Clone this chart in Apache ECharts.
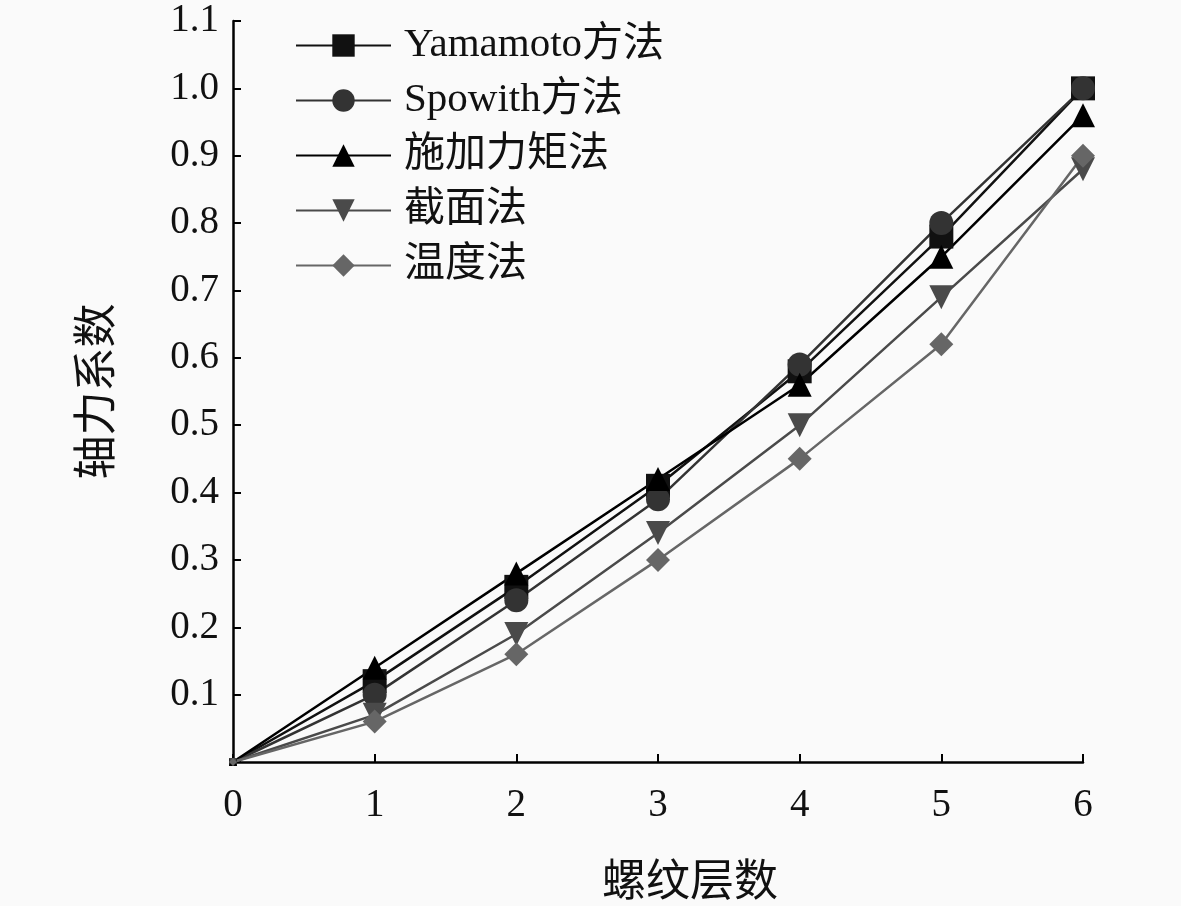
<!DOCTYPE html>
<html>
<head>
<meta charset="utf-8">
<script src="https://cdn.jsdelivr.net/npm/echarts@6/dist/echarts.min.js"></script>
<style>
html, body { margin: 0; padding: 0; background: #fafafa; }
#chart { width: 1181px; height: 906px; }
</style>
</head>
<body>
<div id="chart"></div>
<script>
var layers = [0, 1, 2, 3, 4, 5, 6];
var yamamoto = [0, 0.12, 0.26, 0.41, 0.58, 0.78, 1.00];
var spowith = [0, 0.10, 0.24, 0.39, 0.59, 0.80, 1.00];
var torque = [0, 0.14, 0.28, 0.42, 0.56, 0.75, 0.96];
var section = [0, 0.07, 0.19, 0.34, 0.50, 0.69, 0.88];
var temperature = [0, 0.06, 0.16, 0.30, 0.45, 0.62, 0.90];
var names = ['Yamamoto方法', 'Spowith方法', '施加力矩法', '截面法', '温度法'];

var font = '"Liberation Serif", "Times New Roman", "Noto Sans CJK SC", serif';

function pairs(ys) {
	var out = [];
	for (var i = 0; i < layers.length; i++) out.push([layers[i], ys[i]]);
	return out;
}

function line(name, ys, color, symbol, rotate) {
	return {
		name: name,
		type: 'line',
		data: pairs(ys),
		symbol: symbol,
		// the origin marks are drawn tiny in the original
		symbolSize: function (v) { return v[0] === 0 ? 8 : 24; },
		symbolRotate: rotate || 0,
		lineStyle: { color: color, width: 2.5 },
		itemStyle: { color: color },
		z: 2
	};
}

var chart = echarts.init(document.getElementById('chart'));
chart.setOption({
	backgroundColor: '#fafafa',
	animation: false,
	textStyle: { fontFamily: font },
	grid: { left: 233, right: 98, top: 21, bottom: 144, containLabel: false, outerBoundsMode: 'none' },
	legend: {
		orient: 'vertical',
		left: 290,
		top: 20,
		itemWidth: 95,
		itemHeight: 28,
		itemGap: 14,
		data: names,
		textStyle: { fontSize: 41, color: '#111', fontFamily: font, padding: [0, 0, 0, 8] }
	},
	xAxis: {
		type: 'value',
		min: 0,
		max: 6,
		interval: 1,
		name: '螺纹层数',
		nameLocation: 'middle',
		nameGap: 100,
		nameTextStyle: { fontSize: 44, color: '#111', fontFamily: font, padding: [0, 0, 0, 64] },
		axisLine: { lineStyle: { color: '#000', width: 2.5 } },
		axisTick: { inside: true, length: 8, lineStyle: { color: '#000', width: 2 } },
		axisLabel: { fontSize: 39, color: '#111', margin: 24 },
		splitLine: { show: false }
	},
	yAxis: {
		type: 'value',
		min: 0,
		max: 1.1,
		interval: 0.1,
		name: '轴力系数',
		nameLocation: 'middle',
		nameGap: 112,
		nameTextStyle: { fontSize: 44, color: '#111', fontFamily: font },
		axisLine: { show: true, lineStyle: { color: '#000', width: 2.5 } },
		axisTick: { show: true, inside: true, length: 8, lineStyle: { color: '#000', width: 2 } },
		axisLabel: {
			fontSize: 39,
			color: '#111',
			margin: 14,
			formatter: function (v) { return v === 0 ? '' : v.toFixed(1); }
		},
		splitLine: { show: false }
	},
	series: [
		line(names[0], yamamoto, '#111111', 'rect'),
		line(names[1], spowith, '#333333', 'circle'),
		line(names[2], torque, '#000000', 'triangle'),
		line(names[3], section, '#4a4a4a', 'triangle', 180),
		line(names[4], temperature, '#666666', 'diamond')
	]
});
</script>
</body>
</html>
